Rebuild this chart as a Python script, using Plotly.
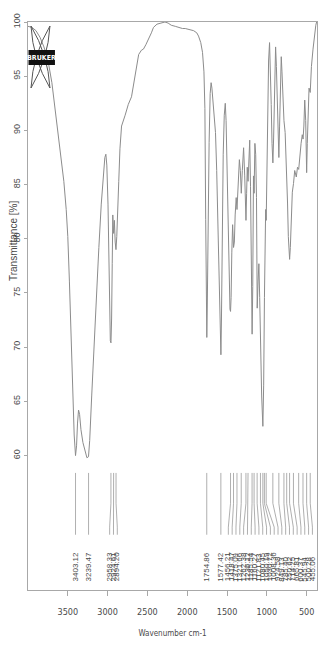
import plotly.graph_objects as go

# ---------------- data ----------------
wavenumber = [
    4000, 3950, 3900, 3850, 3800, 3750, 3700, 3650, 3600, 3550, 3520, 3500, 3480, 3460, 3440, 3420,
    3403, 3390, 3378, 3365, 3352, 3335, 3310, 3285, 3260, 3240, 3225, 3200, 3170, 3140, 3110, 3080,
    3055, 3035, 3022, 3010, 2995, 2985, 2975, 2966, 2958, 2950, 2942, 2935, 2925, 2915, 2905, 2895,
    2885, 2872, 2860, 2845, 2825, 2780, 2740, 2700, 2650, 2610, 2575, 2550, 2520, 2486, 2450, 2424,
    2380, 2330, 2280, 2240, 2200, 2150, 2110, 2060, 2025, 1970, 1920, 1880, 1858, 1830, 1808, 1790,
    1778, 1768, 1760, 1754, 1748, 1738, 1725, 1712, 1700, 1690, 1675, 1660, 1645, 1630, 1615, 1603,
    1592, 1585, 1577, 1570, 1560, 1548, 1535, 1522, 1512, 1500, 1488, 1474, 1463, 1456, 1449, 1440,
    1430, 1418, 1408, 1398, 1385, 1375, 1360, 1345, 1333, 1321, 1308, 1292, 1278, 1268, 1262, 1254,
    1246, 1236, 1226, 1215, 1205, 1195, 1185, 1177, 1168, 1160, 1150, 1140, 1130, 1121, 1110, 1100,
    1090, 1080, 1065, 1050, 1040, 1030, 1022, 1015, 1008, 1000, 990, 978, 966, 955, 945, 935,
    924, 915, 905, 890, 880, 870, 860, 849, 840, 830, 819, 810, 800, 785, 770, 760,
    750, 740, 730, 722, 714, 705, 693, 680, 665, 650, 630, 615, 600, 588, 570, 555,
    545, 535, 524, 512, 500, 492, 482, 470, 455, 440, 420, 400, 385, 375,
]
transmittance = [
    99.6, 99.5, 99.2, 98.6, 97.7, 96.5, 94.4, 91.4, 88.3, 85.3, 82.7, 80.2, 76.1, 71.1, 66.0, 61.9,
    60.0, 60.9, 63.0, 64.2, 63.8, 62.4, 61.2, 60.4, 59.8, 59.9, 61.4, 65.5, 70.6, 75.1, 79.2, 83.2,
    85.8, 87.5, 87.8, 86.8, 83.2, 78.7, 73.6, 70.6, 70.4, 72.6, 77.7, 82.2, 80.5, 81.7, 79.7, 79.0,
    80.2, 82.2, 85.3, 88.3, 90.4, 91.4, 92.4, 93.1, 95.4, 97.0, 97.4, 97.5, 97.9, 98.4, 99.0, 99.5,
    99.8, 99.9, 100.0, 99.9, 99.7, 99.6, 99.5, 99.4, 99.4, 99.3, 99.2, 99.0, 98.7, 98.1, 97.2, 95.4,
    92.0, 81.8, 73.8, 70.9, 73.8, 81.8, 88.9, 93.4, 94.4, 93.9, 92.7, 91.3, 89.8, 86.3, 80.7, 77.7,
    71.6, 69.6, 69.3, 72.6, 80.7, 87.8, 91.4, 92.5, 90.9, 86.8, 80.7, 75.6, 73.5, 73.3, 74.6, 78.7,
    81.3, 79.2, 79.7, 82.2, 83.8, 82.7, 85.8, 87.3, 86.3, 84.2, 86.3, 88.4, 85.8, 82.7, 81.7, 84.2,
    86.6, 85.3, 87.3, 89.1, 84.8, 75.6, 71.2, 75.6, 85.8, 84.2, 88.8, 87.8, 83.8, 73.6, 76.1, 77.7,
    74.6, 70.1, 65.5, 62.7, 66.5, 74.6, 79.2, 82.7, 81.7, 85.8, 91.9, 96.4, 98.1, 95.9, 92.4, 88.8,
    87.0, 89.3, 93.9, 97.7, 95.9, 92.4, 88.8, 87.5, 90.4, 94.4, 96.8, 95.4, 93.4, 90.9, 89.8, 87.8,
    86.3, 83.3, 80.2, 78.7, 78.1, 79.2, 82.0, 84.3, 85.1, 86.3, 85.7, 86.6, 86.4, 87.5, 88.8, 89.6,
    89.2, 90.4, 92.8, 90.9, 86.1, 88.8, 92.4, 93.9, 93.5, 95.9, 97.5, 99.0, 99.7, 100.0,
]
peak_wavenumbers = [
    3403.12, 3239.47, 2958.33, 2924.61, 2894.20, 1754.86, 1577.42,
    1456.21, 1418.47, 1375.09, 1321.66, 1262.38, 1236.12, 1185.54, 1160.27, 1121.83, 1080.45,
    1050.19, 1030.72, 1008.36, 924.58, 849.13, 785.40, 750.62, 714.25, 665.81, 600.37,
    545.94, 500.28, 455.06,
]
peak_labels = [f"{w:.2f}" for w in peak_wavenumbers]
x_tick_values = [3500, 3000, 2500, 2000, 1500, 1000, 500]
y_tick_values = [60, 65, 70, 75, 80, 85, 90, 95, 100]

X_RANGE = [4000, 370]
Y_RANGE = [47.6, 100.0]

# ---------------- styling / layout constants ----------------
PAGE_OFFSET = 8          # default body margin of the html page
SCREEN_W, SCREEN_H = 327, 653
W, H = SCREEN_W - PAGE_OFFSET, SCREEN_H - PAGE_OFFSET
# plot frame in screen pixels: left 28, top 22, right 317.5, bottom 590
ML = 28 - PAGE_OFFSET
MT = 22 - PAGE_OFFSET
MR = W - (317.5 - PAGE_OFFSET)
MB = H - (590 - PAGE_OFFSET)
LINE_GREY = "#8c8c8c"
FRAME_GREY = "#a8a8a8"
TEXT_GREY = "#4a4a4a"
NARROW = "Liberation Sans Narrow, DejaVu Sans Condensed, Liberation Sans, Arial, sans-serif"
SANS = "Liberation Sans, Arial, sans-serif"

LABEL_GAP = 48.0        # minimum spacing of peak label texts (cm-1)
LABEL_LOW_LIMIT = 399.0
Y_LINE_TOP, Y_BEND1, Y_BEND2, Y_TEXT_TOP, Y_TEXT_BASE = 58.4, 55.6, 53.4, 52.7, 48.3


def spread_labels(peaks, gap, low_limit):
    order = sorted(range(len(peaks)), key=lambda i: -peaks[i])

    def place(cluster):
        vals = [peaks[i] for i in cluster]
        center = (max(vals) + min(vals)) / 2.0
        start = center + gap * (len(cluster) - 1) / 2.0
        pos = [start - gap * k for k in range(len(cluster))]
        if pos[-1] < low_limit:
            shift = low_limit - pos[-1]
            pos = [p + shift for p in pos]
        return pos

    clusters = []
    for i in order:
        clusters.append([i])
        while len(clusters) > 1:
            a, b = clusters[-2], clusters[-1]
            if place(a)[-1] - place(b)[0] < gap:
                clusters[-2:] = [a + b]
            else:
                break
    positions = [0.0] * len(peaks)
    for c in clusters:
        for i, p in zip(c, place(c)):
            positions[i] = p
    return positions


label_pos = spread_labels(peak_wavenumbers, LABEL_GAP, LABEL_LOW_LIMIT)

fig = go.Figure()

fig.add_trace(go.Scatter(
    x=wavenumber, y=transmittance, mode="lines",
    line=dict(color=LINE_GREY, width=1), hoverinfo="skip", showlegend=False,
))

cx, cy = [], []
for p, q in zip(peak_wavenumbers, label_pos):
    cx += [p, p, q, q, None]
    cy += [Y_LINE_TOP, Y_BEND1, Y_BEND2, Y_TEXT_TOP, None]
fig.add_trace(go.Scatter(
    x=cx, y=cy, mode="lines", line=dict(color="#9a9a9a", width=0.8),
    hoverinfo="skip", showlegend=False,
))

annotations = []
for q, t in zip(label_pos, peak_labels):
    annotations.append(dict(
        x=q, y=Y_TEXT_BASE, xref="x", yref="y", text=t, showarrow=False,
        textangle=-90, xanchor="center", yanchor="bottom", borderpad=0,
        font=dict(family=SANS, size=8, color=TEXT_GREY),
    ))

pw = W - ML - MR
ph = H - MT - MB


def px2paper(x, y):
    """screen pixel -> paper coordinates"""
    fx, fy = x - PAGE_OFFSET, y - PAGE_OFFSET
    return (fx - ML) / pw, (H - MB - fy) / ph


# y-axis title
tx, ty = px2paper(13, 241)
annotations.append(dict(
    x=tx, y=ty, xref="paper", yref="paper", text="Transmittance [%]", showarrow=False,
    textangle=-90, xanchor="center", yanchor="middle", borderpad=0,
    font=dict(family=SANS, size=10, color=TEXT_GREY),
))

# BRUKER logo (decoration)
shapes = []


def lens(a, b, off):
    (ax, ay), (bx, by) = a, b
    mx, my = (ax + bx) / 2, (ay + by) / 2
    dx, dy = bx - ax, by - ay
    n = (dx * dx + dy * dy) ** 0.5
    px_, py_ = dy / n, -dx / n
    c1 = (mx + px_ * off, my + py_ * off)
    c2 = (mx - px_ * off, my - py_ * off)
    pts = [px2paper(*a), px2paper(*c1), px2paper(*b), px2paper(*c2)]
    return "M{0},{1} Q{2},{3} {4},{5} Q{6},{7} {0},{1} Z".format(
        pts[0][0], pts[0][1], pts[1][0], pts[1][1], pts[2][0], pts[2][1], pts[3][0], pts[3][1])


for a, b in [((31, 26), (50, 88)), ((50, 26), (31, 88))]:
    shapes.append(dict(type="path", xref="paper", yref="paper", path=lens(a, b, 8),
                       line=dict(color="#555555", width=1)))
bx0, by0 = px2paper(28.5, 50)
bx1, by1 = px2paper(55, 65)
shapes.append(dict(type="rect", xref="paper", yref="paper", x0=bx0, x1=bx1, y0=by1, y1=by0,
                   fillcolor="#111111", line=dict(width=0)))
lx, ly = px2paper(41.7, 57.5)
annotations.append(dict(
    x=lx, y=ly, xref="paper", yref="paper", text="<b>BRUKER</b>", showarrow=False,
    xanchor="center", yanchor="middle", font=dict(family=NARROW, size=7, color="white"),
))

fig.update_layout(
    width=W, height=H, margin=dict(l=ML, r=MR, t=MT, b=MB, autoexpand=False),
    paper_bgcolor="white", plot_bgcolor="white",
    annotations=annotations, shapes=shapes, showlegend=False,
    xaxis=dict(
        range=X_RANGE, tickvals=x_tick_values, ticktext=[str(v) for v in x_tick_values],
        ticks="outside", ticklen=5, tickcolor=FRAME_GREY, tickwidth=1,
        showline=True, mirror=True, linecolor=FRAME_GREY, linewidth=1,
        showgrid=False, zeroline=False, automargin=False, ticklabelstandoff=8,
        tickfont=dict(family=NARROW, size=9, color=TEXT_GREY),
        title=dict(text="Wavenumber cm-1", font=dict(family=NARROW, size=8, color=TEXT_GREY), standoff=14),
    ),
    yaxis=dict(
        range=Y_RANGE, tickvals=y_tick_values, tickangle=-90,
        ticks="outside", ticklen=3, tickcolor=FRAME_GREY, tickwidth=1,
        showline=True, mirror=True, linecolor=FRAME_GREY, linewidth=1,
        showgrid=False, zeroline=False, automargin=False,
        tickfont=dict(family=SANS, size=9, color=TEXT_GREY),
    ),
)

fig.write_html("out.html")
